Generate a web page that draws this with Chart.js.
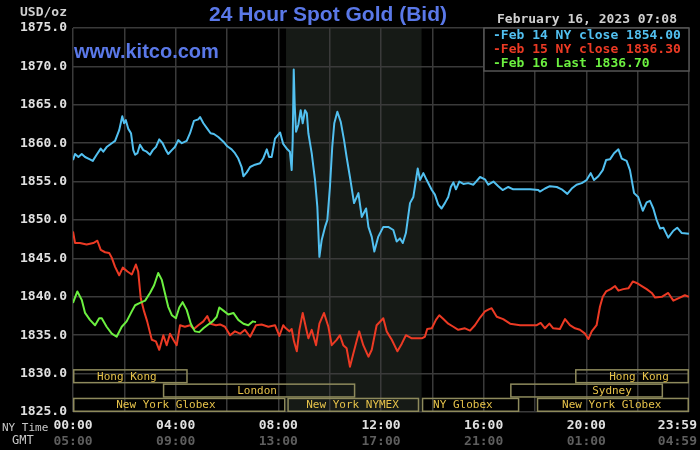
<!DOCTYPE html>
<html><head><meta charset="utf-8">
<script src="https://cdn.jsdelivr.net/npm/chart.js@4"></script>
<style>html,body{margin:0;padding:0;background:#000;overflow:hidden;}</style>
</head><body>
<canvas id="c" width="700" height="450"></canvas>
<script>
// ---- data (NY time in hours, price in USD/oz) ----
const blueLabel = 'Feb 14 NY close 1854.00';
const redLabel = 'Feb 15 NY close 1836.30';
const greenLabel = 'Feb 16 Last 1836.70';

const blueHours = [0,0.08,0.21,0.34,0.47,0.66,0.77,0.92,1.08,1.18,
1.31,1.51,1.64,1.80,1.92,1.99,2.06,2.15,2.26,2.35,
2.42,2.51,2.61,2.74,2.87,3.00,3.11,3.23,3.36,3.49,
3.62,3.71,3.85,3.97,4.10,4.24,4.43,4.56,4.71,4.88,
4.95,5.08,5.23,5.36,5.49,5.66,5.86,6.01,6.18,6.31,
6.44,6.57,6.64,6.77,6.90,7.09,7.29,7.41,7.55,7.64,
7.74,7.87,8.07,8.19,8.35,8.45,8.52,8.56,8.60,8.64,
8.69,8.78,8.87,8.95,9.04,9.11,9.17,9.30,9.43,9.52,
9.60,9.69,9.82,9.91,10.01,10.10,10.18,10.30,10.43,10.56,
10.66,10.79,10.95,11.12,11.25,11.42,11.51,11.64,11.74,11.89,
12.09,12.28,12.48,12.61,12.74,12.85,12.97,13.13,13.26,13.32,
13.43,13.52,13.65,13.78,13.98,14.10,14.23,14.36,14.49,14.62,
14.72,14.82,14.92,15.05,15.21,15.40,15.60,15.73,15.86,16.05,
16.18,16.38,16.57,16.74,16.96,17.15,17.81,18.13,18.19,18.39,
18.58,18.85,19.04,19.26,19.43,19.62,19.82,20.01,20.17,20.30,
20.47,20.64,20.77,20.92,21.08,21.25,21.38,21.57,21.70,21.86,
22.02,22.20,22.35,22.48,22.61,22.74,22.87,23.00,23.19,23.39,
23.54,23.72,24.0];
const bluePrices = [1857.8,1858.6,1858.2,1858.6,1858.2,1857.9,1857.7,1858.5,1859.3,1858.9,
1859.5,1860.0,1860.3,1861.7,1863.5,1862.6,1863.0,1861.9,1861.3,1859.1,
1858.5,1858.7,1859.8,1859.1,1858.9,1858.5,1859.1,1859.5,1860.5,1860.0,
1859.1,1858.6,1859.1,1859.5,1860.4,1860.0,1860.3,1861.3,1862.9,1863.1,
1863.4,1862.6,1861.9,1861.3,1861.2,1860.8,1860.2,1859.6,1859.2,1858.7,
1858.0,1856.9,1855.7,1856.2,1856.9,1857.2,1857.4,1858.0,1859.2,1858.2,
1858.2,1860.6,1861.4,1859.9,1859.2,1858.9,1856.5,1860.4,1869.6,1864.8,
1861.5,1862.4,1864.3,1862.6,1864.3,1863.9,1861.3,1858.7,1855.2,1851.7,
1845.2,1847.4,1849.1,1850.0,1854.3,1859.5,1862.6,1864.1,1862.8,1860.4,
1858.2,1855.6,1852.2,1853.5,1850.4,1851.5,1849.1,1847.8,1845.9,1847.8,
1849.1,1849.1,1848.7,1847.2,1847.6,1847.0,1848.3,1852.2,1853.0,1854.3,
1856.7,1855.2,1856.1,1855.2,1853.9,1853.3,1852.0,1851.5,1852.2,1853.0,
1854.3,1854.9,1854.0,1855.0,1854.7,1854.8,1854.6,1855.1,1855.6,1855.3,
1854.6,1855.0,1854.4,1853.9,1854.3,1854.0,1854.0,1853.9,1853.7,1854.1,
1854.4,1854.3,1854.0,1853.4,1854.1,1854.6,1854.8,1855.2,1856.1,1855.2,
1855.7,1856.5,1857.8,1857.9,1858.7,1859.2,1858.0,1857.7,1856.5,1853.5,
1853.0,1851.2,1852.3,1852.5,1851.5,1850.0,1848.9,1849.0,1847.7,1848.6,
1849.0,1848.3,1848.2];

const redHours = [0,0.08,0.27,0.53,0.79,0.95,1.08,1.25,1.41,1.51,
1.64,1.80,1.94,2.12,2.29,2.45,2.54,2.64,2.77,2.89,
3.07,3.23,3.36,3.52,3.65,3.78,3.91,4.04,4.17,4.36,
4.56,4.71,4.88,5.08,5.23,5.36,5.57,5.73,5.92,6.12,
6.31,6.51,6.70,6.90,7.13,7.35,7.61,7.87,8.04,8.19,
8.26,8.43,8.52,8.61,8.72,8.82,8.95,9.08,9.17,9.30,
9.47,9.60,9.78,9.95,10.08,10.27,10.40,10.53,10.66,10.79,
10.92,11.15,11.31,11.51,11.64,11.83,12.09,12.22,12.42,12.64,
12.81,12.97,13.20,13.39,13.59,13.71,13.80,13.98,14.14,14.27,
14.43,14.62,14.82,15.01,15.27,15.47,15.66,15.86,16.05,16.22,
16.31,16.51,16.76,17.03,17.42,18.07,18.22,18.39,18.56,18.71,
18.97,19.17,19.36,19.56,19.75,19.95,20.08,20.21,20.40,20.53,
20.64,20.77,20.95,21.12,21.25,21.44,21.64,21.81,21.96,22.16,
22.35,22.55,22.68,22.94,23.19,23.39,23.58,23.84,24.0];
const redPrices = [1848.5,1847.0,1847.0,1846.8,1847.0,1847.3,1846.1,1845.8,1845.7,1845.1,
1843.9,1842.8,1843.8,1843.3,1842.9,1844.2,1843.3,1839.8,1838.1,1836.8,
1834.4,1834.2,1833.1,1835.0,1833.7,1835.2,1834.4,1833.7,1836.3,1836.1,
1836.3,1835.8,1836.3,1836.8,1837.5,1836.5,1836.3,1836.4,1836.1,1835.0,
1835.5,1835.2,1835.7,1834.8,1836.3,1836.4,1836.1,1836.3,1834.9,1836.3,
1836.0,1835.5,1835.8,1834.2,1832.9,1835.7,1837.9,1835.9,1834.6,1835.7,
1833.7,1836.5,1837.9,1836.1,1833.7,1834.4,1835.0,1833.7,1833.3,1830.9,
1832.6,1835.5,1833.7,1832.2,1833.1,1836.3,1837.2,1835.5,1834.4,1832.9,
1833.9,1835.0,1834.6,1834.6,1834.6,1834.8,1835.8,1835.9,1837.0,1837.6,
1837.1,1836.5,1836.1,1835.7,1835.9,1835.6,1836.3,1837.3,1838.1,1838.4,
1838.5,1837.4,1837.1,1836.5,1836.3,1836.3,1836.6,1835.9,1836.5,1835.9,
1835.8,1837.1,1836.3,1835.9,1835.7,1835.2,1834.5,1835.5,1836.3,1838.7,
1840.0,1840.7,1841.0,1841.4,1840.8,1841.0,1841.1,1842.0,1841.8,1841.4,
1841.0,1840.5,1839.9,1840.0,1840.5,1839.5,1839.8,1840.2,1840.0];

const greenHours = [0,0.17,0.34,0.47,0.66,0.86,1.02,1.12,1.31,1.51,
1.70,1.90,2.09,2.29,2.42,2.61,2.81,3.00,3.16,3.32,
3.46,3.58,3.71,3.85,4.01,4.14,4.27,4.43,4.59,4.75,
4.92,5.08,5.23,5.44,5.60,5.70,5.86,6.05,6.25,6.44,
6.64,6.83,7.00,7.13];
const greenPrices = [1839.2,1840.7,1839.6,1837.9,1837.0,1836.3,1837.2,1837.2,1836.1,1835.2,
1834.8,1836.1,1836.8,1838.1,1838.9,1839.2,1839.5,1840.5,1841.5,1843.1,
1842.2,1840.5,1838.7,1837.6,1837.2,1838.6,1839.3,1838.3,1836.5,1835.5,
1835.4,1835.9,1836.3,1836.8,1837.4,1838.6,1838.2,1837.7,1837.9,1837.0,
1836.5,1836.3,1836.8,1836.7];

const nyTimeLabels = ['00:00','04:00','08:00','12:00','16:00','20:00','23:59'];
const gmtLabels = ['05:00','09:00','13:00','17:00','21:00','01:00','04:59'];

// trading sessions (hours, NY time)
const sessionNames = ['Hong Kong','Hong Kong','London','Sydney','New York Globex','New York NYMEX','NY Globex','New York Globex'];
const sessionRow   = [0,0,1,1,2,2,2,2];
const sessionStart = [0,19.56,3.5,17.03,0,8.35,13.59,18.07];
const sessionEnd   = [4.47,24,11.0,22.99,8.28,13.49,17.39,24];
const sessionLabelAt = [2.1,22.05,7.17,21.0,3.62,10.89,15.19,20.99];
const shadeRange = [8.30,13.58];

const titleText = '24 Hour Spot Gold (Bid)';
const siteText = 'www.kitco.com';
const dateText = 'February 16, 2023 07:08';
const unitText = 'USD/oz';

const BLUE = '#52c0f0', RED = '#ec3a24', GREEN = '#6cf040';
const MONO = '"DejaVu Sans Mono", monospace';

function pts(h, p) { return h.map((v, i) => ({x: v, y: p[i]})); }

const decor = {
  id: 'decor',
  beforeDraw(chart) {
    const {ctx, chartArea: a} = chart;
    const x = chart.scales.x;
    ctx.save();
    ctx.fillStyle = '#000';
    ctx.fillRect(0, 0, chart.width, chart.height);
    const x0 = x.getPixelForValue(shadeRange[0]), x1 = x.getPixelForValue(shadeRange[1]);
    ctx.fillStyle = '#161a16';
    ctx.fillRect(x0, a.top, x1 - x0, a.bottom - a.top);
    ctx.restore();
    // keep the last time label inside the canvas
    ['x', 'x2'].forEach(id => {
      const items = chart.scales[id].getLabelItems();
      const last = items[items.length - 1];
      if (last) { last.options.textAlign = 'right'; last.options.translation[0] = chart.width - 3; }
    });
  },
  beforeDatasetsDraw(chart) {
    const {ctx, chartArea: a} = chart;
    const x = chart.scales.x;
    const rowH = 14.3;
    ctx.save();
    ctx.lineWidth = 1.5;
    ctx.strokeStyle = '#8e8a5c';
    ctx.font = '11px ' + MONO;
    ctx.fillStyle = '#e6c24a';
    ctx.textAlign = 'center';
    ctx.textBaseline = 'middle';
    sessionNames.forEach((name, i) => {
      const top = a.bottom - (3 - sessionRow[i]) * rowH;
      const l = x.getPixelForValue(sessionStart[i]);
      const r = Math.min(x.getPixelForValue(sessionEnd[i]), a.right);
      ctx.strokeRect(l + 0.75, top + 0.75, r - l - 1.5, rowH - 1.5);
      ctx.fillText(name, x.getPixelForValue(sessionLabelAt[i]), top + rowH / 2 + 0.5);
    });
    ctx.restore();
  },
  afterDraw(chart) {
    const {ctx, chartArea: a} = chart;
    ctx.save();
    // legend
    const bw = 205, bh = 43, bx = a.right - bw, by = a.top;
    ctx.fillStyle = '#000';
    ctx.fillRect(bx, by, bw, bh);
    ctx.strokeStyle = '#555';
    ctx.lineWidth = 1.5;
    ctx.strokeRect(bx, by, bw, bh);
    ctx.font = 'bold 13px ' + MONO;
    ctx.textAlign = 'left';
    ctx.textBaseline = 'middle';
    chart.data.datasets.forEach((ds, i) => {
      ctx.fillStyle = ds.borderColor;
      ctx.fillText('-' + ds.label, bx + 9, by + 8 + i * 13.8);
    });
    // headings
    ctx.fillStyle = '#d0d0d0';
    ctx.textAlign = 'right';
    ctx.fillText(unitText, a.left - 6, 13);
    ctx.fillText(dateText, 677, 20);
    ctx.font = 'bold 21px "Liberation Sans", Arial, sans-serif';
    ctx.fillStyle = '#5a78e8';
    ctx.textAlign = 'left';
    ctx.fillText(titleText, 209, 15);
    ctx.font = 'bold 20px "Liberation Sans", Arial, sans-serif';
    ctx.fillText(siteText, a.left + 1, 52);
    ctx.font = '11px ' + MONO;
    ctx.fillStyle = '#c8c8c8';
    ctx.fillText('NY Time', 2, 428);
    ctx.font = '12px ' + MONO;
    ctx.fillText('GMT', 12, 441);
    ctx.restore();
  }
};

new Chart(document.getElementById('c'), {
  type: 'line',
  data: {
    datasets: [
      {label: blueLabel, data: pts(blueHours, bluePrices), borderColor: BLUE, order: 3},
      {label: redLabel, data: pts(redHours, redPrices), borderColor: RED, order: 2},
      {label: greenLabel, data: pts(greenHours, greenPrices), borderColor: GREEN, order: 1}
    ]
  },
  options: {
    responsive: false,
    animation: false,
    devicePixelRatio: 1,
    layout: {padding: {top: 28, right: 11, left: 0, bottom: 0}},
    elements: {
      point: {radius: 0},
      line: {borderWidth: 2, tension: 0, borderJoinStyle: 'round'}
    },
    plugins: {legend: {display: false}, tooltip: {enabled: false}, title: {display: false}},
    scales: {
      x: {
        type: 'linear', min: 0, max: 24, position: 'bottom', weight: 0,
        grid: {color: '#3a3a3a', lineWidth: 1.5, drawTicks: false},
        border: {display: false},
        ticks: {
          stepSize: 2, autoSkip: false, maxRotation: 0, padding: 6,
          color: '#e0e0e0', font: {family: MONO, size: 13, weight: 'bold'},
          callback: v => (v % 4 === 0 ? nyTimeLabels[v / 4] : '')
        },
        afterFit: s => { s.height = 22; s.paddingLeft = 0; s.paddingRight = 0; }
      },
      x2: {
        type: 'linear', min: 0, max: 24, position: 'bottom', weight: 1,
        grid: {display: false, drawTicks: false},
        border: {display: false},
        ticks: {
          stepSize: 4, autoSkip: false, maxRotation: 0, padding: 0,
          color: '#5e5e5e', font: {family: MONO, size: 13, weight: 'bold'},
          callback: v => gmtLabels[v / 4]
        },
        afterFit: s => { s.height = 16; s.paddingLeft = 0; s.paddingRight = 0; }
      },
      y: {
        type: 'linear', min: 1825, max: 1875, position: 'left',
        grid: {color: '#3a3a3a', lineWidth: 1.5, drawTicks: false},
        border: {display: false},
        ticks: {
          stepSize: 5, padding: 6,
          color: '#e0e0e0', font: {family: MONO, size: 13, weight: 'bold'},
          callback: v => v.toFixed(1)
        },
        afterFit: s => { s.width = 73; }
      }
    }
  },
  plugins: [decor]
});
</script>
</body></html>
